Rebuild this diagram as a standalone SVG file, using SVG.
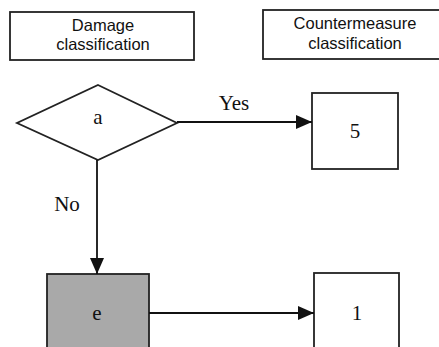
<svg xmlns="http://www.w3.org/2000/svg" width="439" height="347" viewBox="0 0 439 347">
<style>
.hdr{fill:#fff;stroke:#222;stroke-width:1.8}
.box{fill:#fff;stroke:#222;stroke-width:1.8}
.grey{fill:#a9a9a9;stroke:#222;stroke-width:1.8}
.sans{font-family:"Liberation Sans",Arial,sans-serif;font-size:16.5px;fill:#111;text-anchor:middle}
.serif{font-family:"Liberation Serif","Times New Roman",serif;font-size:21px;fill:#111;text-anchor:middle}
.line{stroke:#111;stroke-width:1.8;fill:none}
</style>
<defs>
<marker id="arr" viewBox="0 0 16 14" refX="16" refY="7" markerWidth="16" markerHeight="14" markerUnits="userSpaceOnUse" orient="auto">
<path d="M0,0 L16,7 L0,14 Z" fill="#111"/>
</marker>
</defs>
<rect width="439" height="347" fill="#fff"/>
<g id="hdr-damage">
<rect class="hdr" x="10" y="12" width="184" height="48"/>
<text class="sans" x="103" y="31">Damage</text>
<text class="sans" x="103" y="50">classification</text>
</g>
<g id="hdr-counter">
<rect class="hdr" x="263" y="10" width="180" height="49"/>
<text class="sans" x="355" y="29">Countermeasure</text>
<text class="sans" x="355" y="49">classification</text>
</g>
<g id="node-a">
<polygon class="box" points="98,85 177,123 98,160 17,123"/>
<text class="serif" x="98" y="124">a</text>
</g>
<g id="node-5">
<rect class="box" x="312" y="93" width="86" height="76"/>
<text class="serif" x="355" y="138">5</text>
</g>
<g id="node-e">
<rect class="grey" x="47" y="274" width="102" height="80"/>
<text class="serif" x="97" y="320">e</text>
</g>
<g id="node-1">
<rect class="box" x="314" y="273" width="85" height="80"/>
<text class="serif" x="357" y="320">1</text>
</g>
<g id="connectors">
<line class="line" x1="177" y1="122" x2="312" y2="122" marker-end="url(#arr)"/>
<line class="line" x1="97" y1="160" x2="97" y2="274" marker-end="url(#arr)"/>
<line class="line" x1="149" y1="313" x2="314" y2="313" marker-end="url(#arr)"/>
<text class="serif" x="234" y="110">Yes</text>
<text class="serif" x="67" y="211">No</text>
</g>
</svg>
